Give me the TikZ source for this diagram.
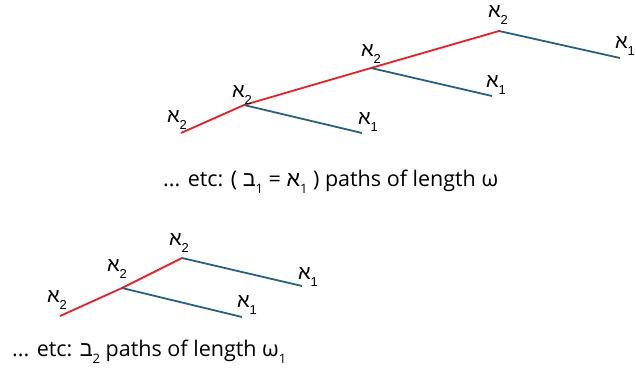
\documentclass[tikz,border=0pt]{standalone}
\usepackage{fontspec}
\setmainfont{Liberation Sans}
\newfontfamily\hebfont[Script=Hebrew]{Liberation Sans}
\newfontfamily\capfont{Open Sans}
\TeXXeTstate=1
\definecolor{pathred}{RGB}{236,30,36}
\definecolor{branchblue}{RGB}{38,98,128}
\newcommand{\lowidx}[1]{\raisebox{-0.6ex}{\fontsize{13}{13}\selectfont #1}}
\newcommand{\alefsub}[1]{{\hebfont\beginR א\endR}\lowidx{#1}}
\newcommand{\betsub}[1]{{\hebfont\beginR ב\endR}\lowidx{#1}}

\begin{document}
\begin{tikzpicture}[x=1pt,y=-1pt,
    redpath/.style={pathred,line width=1.8pt},
    branch/.style={branchblue,line width=1.8pt},
    card/.style={inner sep=0pt,font=\fontsize{20}{20}\selectfont},
    caption/.style={inner sep=0pt,anchor=west,font=\capfont\fontsize{21.5}{21.5}\selectfont}]
        \useasboundingbox (0,0) rectangle (636,369);
        % Top tree: points
        \coordinate (t0) at (181,133);
        \coordinate (t1) at (244,105);
        \coordinate (t2) at (371,68);
        \coordinate (t3) at (499,31);
        \coordinate (e1) at (362,133);
        \coordinate (e2) at (492,96);
        \coordinate (e3) at (620,58);
        % Top tree: path and branches
        \draw[redpath] (t0) -- (t1) -- (t2) -- (t3);
        \draw[branch] (t1) -- (e1);
        \draw[branch] (t2) -- (e2);
        \draw[branch] (t3) -- (e3);
        % Top tree: labels
        \node[card] (l0) at (177,120) {\alefsub{2}};
        \node[card] (l1) at (242,95) {\alefsub{2}};
        \node[card] (l2) at (371,54) {\alefsub{2}};
        \node[card] (l3) at (498,15) {\alefsub{2}};
        \node[card] (m1) at (368,122) {\alefsub{1}};
        \node[card] (m2) at (496,85) {\alefsub{1}};
        \node[card] (m3) at (625,46) {\alefsub{1}};
        \node[caption] (cap1) at (163,182)
          {... etc: ( \betsub{1} = \alefsub{1} ) paths of length ω};
        % Bottom tree: points
        \coordinate (b0) at (60,316);
        \coordinate (b1) at (122,288);
        \coordinate (b2) at (182,258);
        \coordinate (f1) at (242,317);
        \coordinate (f2) at (302,286);
        % Bottom tree: path and branches
        \draw[redpath] (b0) -- (b1) -- (b2);
        \draw[branch] (b1) -- (f1);
        \draw[branch] (b2) -- (f2);
        % Bottom tree: labels
        \node[card] (k0) at (57,300) {\alefsub{2}};
        \node[card] (k1) at (117,269) {\alefsub{2}};
        \node[card] (k2) at (179,243) {\alefsub{2}};
        \node[card] (n1) at (247,305) {\alefsub{1}};
        \node[card] (n2) at (308,277) {\alefsub{1}};
        \node[caption] (cap2) at (12,352)
          {... etc: \betsub{2} paths of length ω\lowidx{1}};
      \end{tikzpicture}
\end{document}
